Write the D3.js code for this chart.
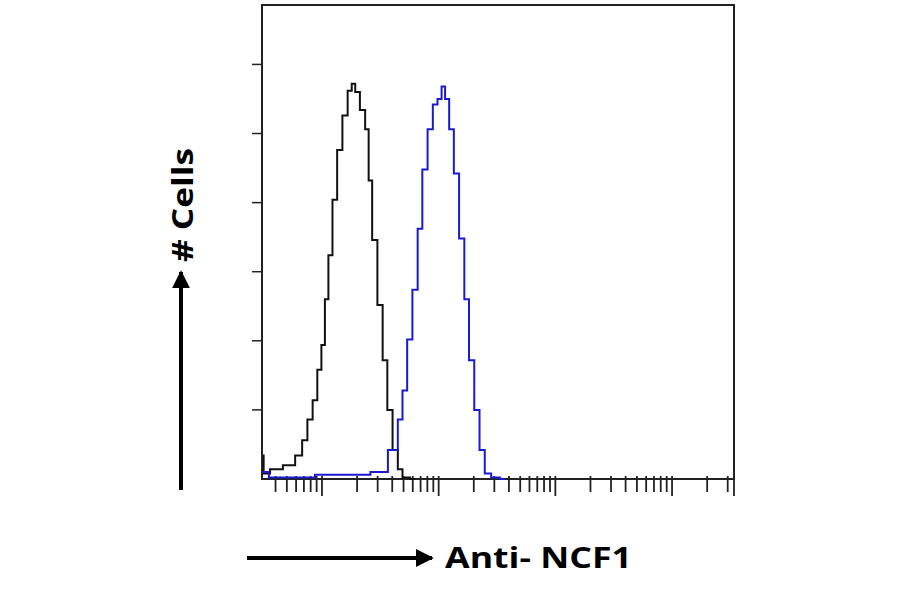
<!DOCTYPE html>
<html><head><meta charset="utf-8">
<script src="https://cdn.jsdelivr.net/npm/d3@7"></script>
<style>body{margin:0;background:#fff}</style>
</head><body>
<svg id="chart" width="900" height="594"></svg>
<script>
// log10 fluorescence / cell counts
var ctrlLog = [0.49,0.51,0.60,0.73,0.81,0.85,0.90,0.94,0.98,1.01,1.04,1.07,1.11,1.15,1.20,1.24,1.27,1.30,1.35,1.39,1.41,1.45,1.50,1.54,1.58,1.63,1.67,1.71,1.80];
var ctrlCount = [17,4,7,10,17,28,43,57,79,97,130,162,202,238,263,281,286,280,267,253,216,173,126,86,50,21,7,1,0];
var ncfLog = [0.49,0.60,0.81,1.07,1.33,1.50,1.63,1.67,1.71,1.75,1.80,1.84,1.88,1.93,1.97,2.01,2.04,2.07,2.11,2.15,2.20,2.24,2.28,2.33,2.37,2.42,2.48,2.57];
var ncfCount = [5,1,1,3,3,5,21,43,64,101,137,181,224,253,271,275,284,275,253,221,174,130,86,50,21,4,1,0];
var yTicks = [50,100,150,200,250,300];

var svg = d3.select("#chart");
var L = 262, R = 734, T = 5, B = 479;
var x = d3.scaleLog().domain([Math.pow(10,0.486), Math.pow(10,4.531)]).range([L, R]);
var y = d3.scaleLinear().domain([0, 343]).range([B, T]);

// frame
svg.append("rect").attr("x", L).attr("y", T).attr("width", R - L).attr("height", B - T)
  .attr("fill", "none").attr("stroke", "#222").attr("stroke-width", 2);

// y ticks
svg.selectAll(".yt").data(yTicks).enter().append("line")
  .attr("x1", L - 10).attr("x2", L).attr("y1", function(d){ return y(d); }).attr("y2", function(d){ return y(d); })
  .attr("stroke", "#222").attr("stroke-width", 1.5);

// x log ticks
var xt = [];
for (var k = 0; k <= 4; k++) for (var m = 1; m <= 9; m++) {
  var v = m * Math.pow(10, k);
  if (x(v) >= L - 0.5 && x(v) <= R + 0.5) xt.push({v: v, major: m == 1});
}
xt.push({v: x.domain()[1], major: true});
svg.selectAll(".xt").data(xt).enter().append("line")
  .attr("x1", function(d){ return x(d.v); }).attr("x2", function(d){ return x(d.v); })
  .attr("y1", B - 3).attr("y2", function(d){ return d.major ? B + 17 : B + 13; })
  .attr("stroke", "#222").attr("stroke-width", 1.8);

function curve(lg, ct, color) {
  var pts = lg.map(function(d, i){ return [Math.pow(10, d), ct[i]]; });
  svg.append("path").datum(pts)
    .attr("d", d3.line().x(function(d){ return x(d[0]); }).y(function(d){ return y(d[1]); }).curve(d3.curveStep))
    .attr("fill", "none").attr("stroke", color).attr("stroke-width", 2);
}
curve(ctrlLog, ctrlCount, "#111");
curve(ncfLog, ncfCount, "#1a1ad0");

// arrows + labels
svg.append("defs").append("marker").attr("id", "ah").attr("viewBox", "0 0 10 10")
  .attr("refX", 9).attr("refY", 5).attr("markerWidth", 4.5).attr("markerHeight", 4.5).attr("orient", "auto")
  .append("path").attr("d", "M0,0L10,5L0,10Z").attr("fill", "#000");
svg.append("line").attr("x1", 181).attr("y1", 490).attr("x2", 181).attr("y2", 272)
  .attr("stroke", "#000").attr("stroke-width", 4).attr("marker-end", "url(#ah)");
svg.append("line").attr("x1", 247).attr("y1", 558).attr("x2", 432).attr("y2", 558)
  .attr("stroke", "#000").attr("stroke-width", 4).attr("marker-end", "url(#ah)");
svg.append("text").attr("transform", "translate(193,205) rotate(-90)").attr("text-anchor", "middle")
  .attr("font-family", "Open Sans, Liberation Sans, sans-serif").attr("font-weight", "bold").attr("font-size", 28)
  .attr("textLength", 114).attr("lengthAdjust", "spacingAndGlyphs")
  .text("# Cells");
svg.append("text").attr("x", 445).attr("y", 568)
  .attr("font-family", "Open Sans, Liberation Sans, sans-serif").attr("font-weight", "bold").attr("font-size", 28)
  .attr("textLength", 187).attr("lengthAdjust", "spacingAndGlyphs")
  .text("Anti- NCF1");
</script>
</body></html>
